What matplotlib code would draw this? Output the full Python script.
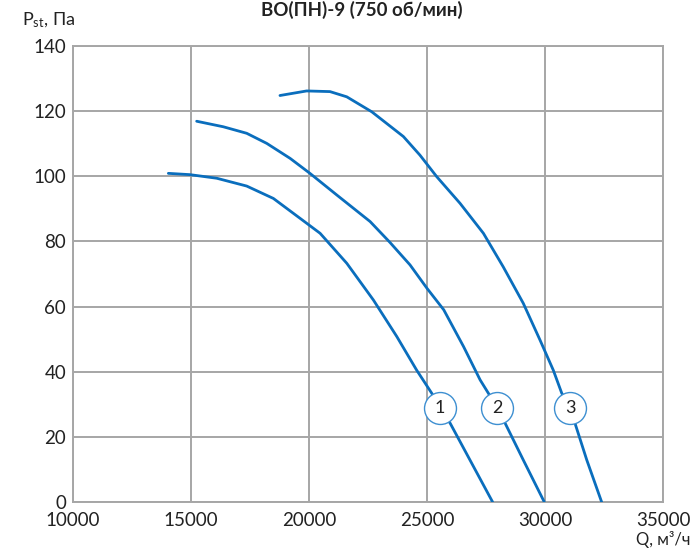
import matplotlib.pyplot as plt

plt.rcParams['font.family'] = ['Lato', 'DejaVu Sans']

# curve 1
q1 = [14040, 14960, 16090, 17360, 18490, 19620, 20470, 21600, 22730, 23720,
      24560, 25200, 25550, 25980, 26820, 27780]
p1 = [100.9, 100.5, 99.4, 97.0, 93.2, 87.1, 82.5, 73.3, 62.0, 50.8,
      40.5, 33.4, 28.9, 24.2, 12.9, 0]

# curve 2
q2 = [15240, 16370, 17360, 18210, 19200, 20040, 21170, 22590, 23430, 24280,
      25000, 25710, 26550, 27250, 27600, 27970, 28310, 29080, 29970]
p2 = [116.9, 115.2, 113.2, 110.1, 105.5, 100.9, 94.3, 86.1, 79.7, 72.8,
      65.6, 59.0, 47.7, 37.5, 33.4, 28.9, 24.2, 12.9, 0]

# curve 3
q3 = [18770, 19900, 20890, 21600, 22660, 24000, 24700, 25410, 26400, 27390,
      28230, 29080, 29790, 30350, 30710, 31060, 31270, 31770, 32400]
p3 = [124.8, 126.2, 126.0, 124.4, 119.8, 112.2, 106.5, 99.9, 91.7, 82.5,
      72.2, 61.0, 49.7, 40.5, 33.4, 28.9, 24.2, 12.9, 0]

labels = ["1", "2", "3"]
label_q = [25550, 27970, 31060]
label_p = [28.9, 28.9, 28.9]

xticks = [10000, 15000, 20000, 25000, 30000, 35000]
yticks = [0, 20, 40, 60, 80, 100, 120, 140]

blue = "#0A6EBD"
grid = "#A6A6A6"

fig = plt.figure(figsize=(6.96, 5.5), dpi=100)
ax = fig.add_axes([73 / 696, 48 / 550, 590 / 696, 456 / 550])

for q, p in [(q1, p1), (q2, p2), (q3, p3)]:
    ax.plot(q, p, color=blue, lw=2.0, solid_capstyle="round",
            solid_joinstyle="round", zorder=3)

for lab, q, p in zip(labels, label_q, label_p):
    ax.plot(q, p, "o", ms=23, mfc="white", mec="#3D8FD1", mew=1.0, zorder=4)
    ax.text(q, p, lab, ha="center", va="center", fontsize=13, color="#222222", zorder=5)

ax.set_xlim(10000, 35000)
ax.set_ylim(0, 140)
ax.set_xticks(xticks)
ax.set_yticks(yticks)
ax.grid(True, color=grid, lw=1.4)
ax.set_axisbelow(True)
for s in ax.spines.values():
    s.set_color(grid)
    s.set_linewidth(1.4)
ax.tick_params(length=0, labelsize=13.5, colors="#222222", pad=5)
ax.tick_params(axis="x", pad=7)

fig.text(0.52, 1 - 10 / 550, "ВО(ПН)-9 (750 об/мин)", ha="center", va="center",
         fontsize=13.5, fontweight="bold", color="#222222")
fig.text(22 / 696, 1 - 20 / 550, r"$\mathregular{P_{st}}$, Па", ha="left", va="center",
         fontsize=13, color="#222222")
fig.text(690 / 696, 1 - 540 / 550, "Q, м³/ч", ha="right", va="center",
         fontsize=12, color="#222222")

fig.savefig("out.png", dpi=100)
